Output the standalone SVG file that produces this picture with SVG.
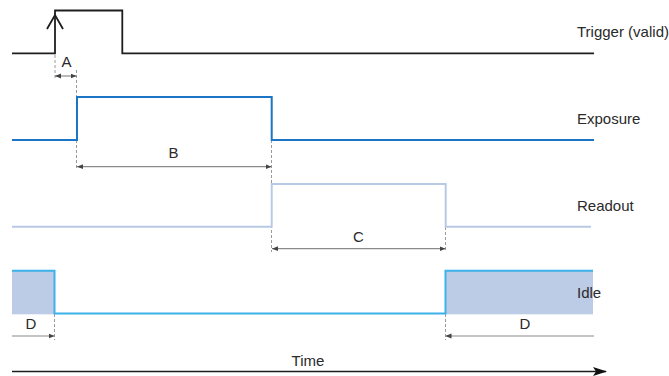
<svg xmlns="http://www.w3.org/2000/svg" width="669" height="376" viewBox="0 0 669 376">
<defs>
<marker id="ah" viewBox="0 0 6 6" refX="6" refY="3" markerWidth="6" markerHeight="6" markerUnits="userSpaceOnUse" orient="auto-start-reverse"><path d="M0,0.6 L6,3 L0,5.4 Z" fill="#444"/></marker>
<marker id="big" viewBox="0 0 14 9" refX="13" refY="4.5" markerWidth="14" markerHeight="9" markerUnits="userSpaceOnUse" orient="auto"><path d="M0,0 L14,4.5 L0,9 L3,4.5 Z" fill="#111"/></marker>
</defs>
<style>
text{font-family:"Liberation Sans",Arial,sans-serif;font-size:15px;fill:#2a2a2a}
.dash{stroke:#9a9a9a;stroke-width:1;stroke-dasharray:3,2;fill:none}
.dim{stroke:#8a8a8a;stroke-width:1.2;fill:none}
.sig{fill:none;stroke-linejoin:miter}
</style>
<g id="guides">
<line class="dash" x1="55" y1="55" x2="55" y2="80"/>
<line class="dash" x1="76.5" y1="70" x2="76.5" y2="170"/>
<line class="dash" x1="271.5" y1="140" x2="271.5" y2="252"/>
<line class="dash" x1="445.5" y1="227" x2="445.5" y2="252"/>
<line class="dash" x1="54.5" y1="314" x2="54.5" y2="340"/>
<line class="dash" x1="445.5" y1="314" x2="445.5" y2="340"/>
</g>
<g id="trigger">
<path class="sig" d="M12,53.3 H55 V10.5 H122.3 V53.3 H594" stroke="#1e1e1e" stroke-width="1.8"/>
<path class="sig" d="M47,29 L55,15 L63,29" stroke="#1e1e1e" stroke-width="1.8"/>
<text x="577" y="37">Trigger (valid)</text>
</g>
<g id="exposure">
<path class="sig" d="M12,140 H77 V97 H271.7 V140 H594" stroke="#1c75c4" stroke-width="2"/>
<text x="577" y="124">Exposure</text>
</g>
<g id="readout">
<path class="sig" d="M12,226.7 H271.7 V184 H445.7 V226.7 H591" stroke="#b8c9e5" stroke-width="2"/>
<text x="577" y="211">Readout</text>
</g>
<g id="idle">
<rect x="12" y="270.7" width="42.5" height="43.6" fill="#bccbe6"/>
<rect x="445.5" y="270.7" width="147.5" height="43.6" fill="#bccbe6"/>
<path class="sig" d="M12,270.7 H54.5 V313.5 H445.5 V270.7 H593" stroke="#3bb2e8" stroke-width="2"/>
<text x="577" y="298">Idle</text>
</g>
<g id="connectors">
<line class="dim" x1="55" y1="76" x2="76.5" y2="76" marker-start="url(#ah)" marker-end="url(#ah)"/>
<line class="dim" x1="77" y1="166.7" x2="271.5" y2="166.7" marker-start="url(#ah)" marker-end="url(#ah)"/>
<line class="dim" x1="272" y1="248.7" x2="445.5" y2="248.7" marker-start="url(#ah)" marker-end="url(#ah)"/>
<line class="dim" x1="12" y1="336" x2="54.5" y2="336" marker-end="url(#ah)"/>
<line class="dim" x1="594" y1="336" x2="445.5" y2="336" marker-end="url(#ah)"/>
<line x1="12" y1="371.5" x2="606" y2="371.5" stroke="#1e1e1e" stroke-width="1.6" marker-end="url(#big)"/>
</g>
<g id="labels">
<text x="66.5" y="67" text-anchor="middle">A</text>
<text x="173.5" y="158" text-anchor="middle">B</text>
<text x="358.5" y="242" text-anchor="middle">C</text>
<text x="31" y="329" text-anchor="middle">D</text>
<text x="525" y="329" text-anchor="middle">D</text>
<text x="308" y="366" text-anchor="middle">Time</text>
</g>
</svg>
